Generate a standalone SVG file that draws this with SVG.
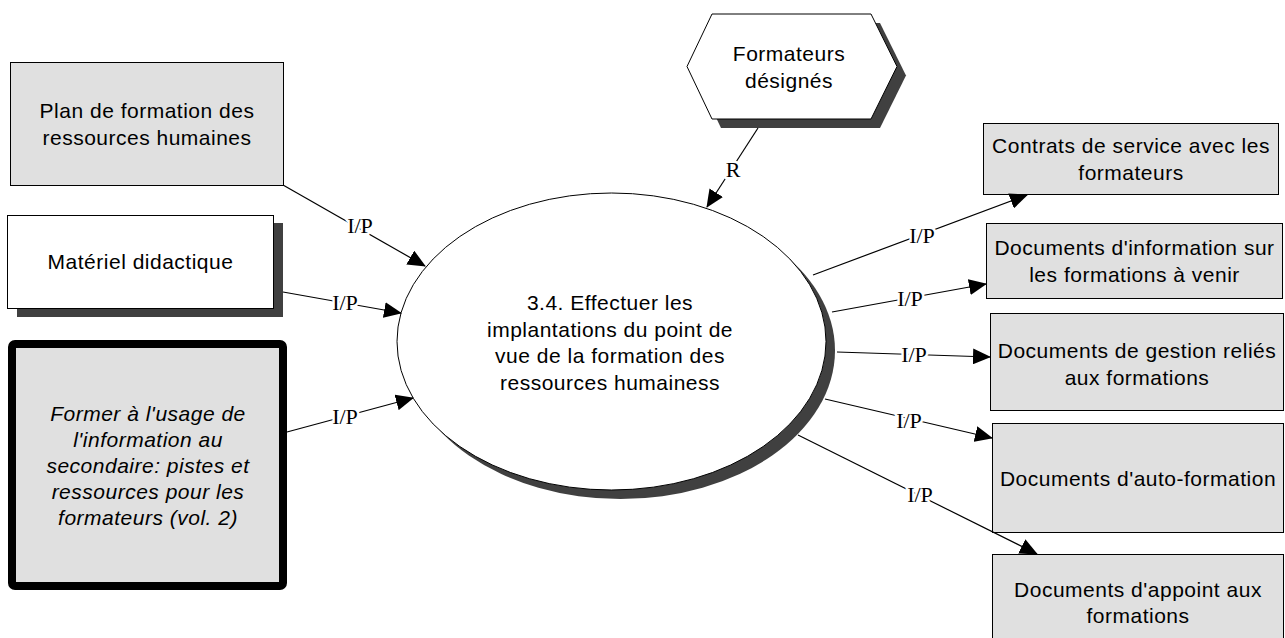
<svg xmlns="http://www.w3.org/2000/svg" width="1285" height="638" viewBox="0 0 1285 638">
  <defs>
    <style>
      .box { fill: #e0e0e0; stroke: #000; stroke-width: 1; }
      .plain { fill: #fff; stroke: #000; stroke-width: 1; }
      .shadow { fill: #404040; }
      .t { font-family: "Liberation Sans", Arial, sans-serif; font-size: 21px; letter-spacing: 0.5px; fill: #000; text-anchor: middle; }
      .it { font-style: italic; }
      .conn { stroke: #000; stroke-width: 1.2; fill: none; marker-end: url(#arrow); }
      .lbl { font-family: "Liberation Serif", "Times New Roman", serif; font-size: 22px; text-anchor: middle; fill: #000; stroke: #fff; stroke-width: 5; paint-order: stroke; stroke-linejoin: round; }
    </style>
    <marker id="arrow" markerUnits="userSpaceOnUse" markerWidth="18" markerHeight="16" viewBox="0 0 18 16" refX="17" refY="8" orient="auto">
      <path d="M0,0 L18,8 L0,16 z" fill="#000"/>
    </marker>
  </defs>

  <rect width="1285" height="638" fill="#fff"/>

  <!-- inputs on the left -->
  <g id="plan-formation">
    <rect class="box" x="10.5" y="62.5" width="273" height="123"/>
    <text class="t" x="147" y="118">Plan de formation des</text>
    <text class="t" x="147" y="144.5">ressources humaines</text>
  </g>

  <g id="materiel-didactique">
    <rect class="shadow" x="17" y="223" width="266" height="94"/>
    <rect class="plain" x="7.5" y="215.5" width="266" height="93"/>
    <text class="t" x="140.5" y="269">Matériel didactique</text>
  </g>

  <g id="former-usage">
    <rect x="12" y="344" width="271" height="242" rx="3" fill="#e0e0e0" stroke="#000" stroke-width="8" stroke-linejoin="round"/>
    <text class="t it" x="148" y="421">Former à l'usage de</text>
    <text class="t it" x="148" y="447">l'information au</text>
    <text class="t it" x="148" y="473">secondaire: pistes et</text>
    <text class="t it" x="148" y="499">ressources pour les</text>
    <text class="t it" x="148" y="525">formateurs (vol. 2)</text>
  </g>

  <!-- resource -->
  <g id="formateurs-designes">
    <polygon class="shadow" points="696,75.5 721,23 880,23 906,75.5 880,128 721,128"/>
    <polygon class="plain" points="687,66.5 712,14 871,14 897,66.5 871,119 712,119"/>
    <text class="t" x="789" y="61">Formateurs</text>
    <text class="t" x="789" y="87.5">désignés</text>
  </g>

  <!-- process -->
  <g id="processus">
    <ellipse class="shadow" cx="620.5" cy="350.5" rx="214.5" ry="148.5"/>
    <ellipse class="plain" cx="611.5" cy="341.5" rx="214.5" ry="148.5"/>
    <text class="t" x="610" y="310">3.4. Effectuer les</text>
    <text class="t" x="610" y="336.5">implantations du point de</text>
    <text class="t" x="610" y="363">vue de la formation des</text>
    <text class="t" x="610" y="389.5">ressources humainess</text>
  </g>

  <!-- outputs on the right -->
  <g id="contrats">
    <rect class="box" x="983.5" y="123.5" width="295" height="71"/>
    <text class="t" x="1131" y="153">Contrats de service avec les</text>
    <text class="t" x="1131" y="179.5">formateurs</text>
  </g>

  <g id="doc-information">
    <rect class="box" x="986.5" y="223.5" width="296" height="75"/>
    <text class="t" x="1134.5" y="255">Documents d'information sur</text>
    <text class="t" x="1134.5" y="281.5">les formations à venir</text>
  </g>

  <g id="doc-gestion">
    <rect class="box" x="990.5" y="313.5" width="293" height="97"/>
    <text class="t" x="1137" y="358">Documents de gestion reliés</text>
    <text class="t" x="1137" y="384.5">aux formations</text>
  </g>

  <g id="doc-auto-formation">
    <rect class="box" x="992.5" y="423.5" width="291" height="109"/>
    <text class="t" x="1138" y="486">Documents d'auto-formation</text>
  </g>

  <g id="doc-appoint">
    <rect class="box" x="992.5" y="554.5" width="291" height="90"/>
    <text class="t" x="1138" y="597">Documents d'appoint aux</text>
    <text class="t" x="1138" y="623">formations</text>
  </g>

  <!-- flows -->
  <g id="connecteurs">
    <line class="conn" x1="283" y1="185" x2="425" y2="266"/>
    <line class="conn" x1="283" y1="292" x2="401" y2="313"/>
    <line class="conn" x1="287" y1="432" x2="413" y2="398"/>
    <line class="conn" x1="758" y1="128" x2="707" y2="207"/>
    <line class="conn" x1="813" y1="275" x2="1027" y2="195"/>
    <line class="conn" x1="832" y1="312" x2="986" y2="284"/>
    <line class="conn" x1="837" y1="352" x2="990" y2="357"/>
    <line class="conn" x1="825" y1="399" x2="992" y2="438"/>
    <line class="conn" x1="798" y1="435" x2="1037" y2="554"/>

    <text class="lbl" x="360" y="233">I/P</text>
    <text class="lbl" x="345" y="310">I/P</text>
    <text class="lbl" x="345" y="424">I/P</text>
    <text class="lbl" x="733" y="177">R</text>
    <text class="lbl" x="922" y="243">I/P</text>
    <text class="lbl" x="910" y="306">I/P</text>
    <text class="lbl" x="914" y="362">I/P</text>
    <text class="lbl" x="909" y="428">I/P</text>
    <text class="lbl" x="920" y="502">I/P</text>
  </g>
</svg>
